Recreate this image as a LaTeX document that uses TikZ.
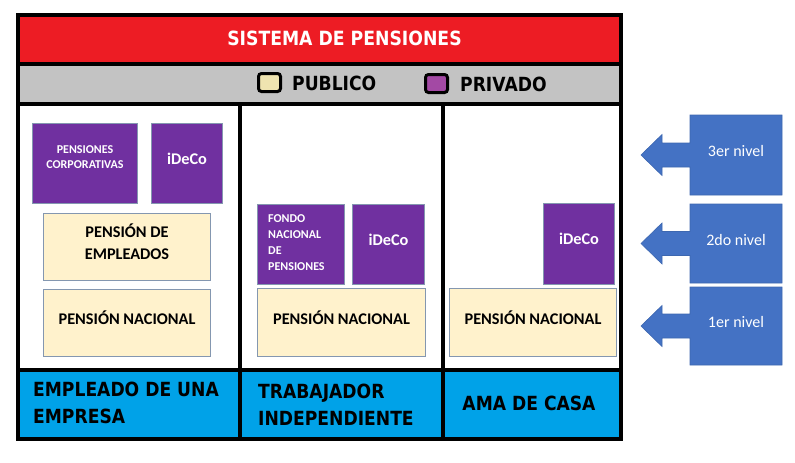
\documentclass[tikz,border=0pt]{standalone}
\usepackage{fontspec}
\setmainfont{Carlito}
\newfontfamily\tah{DejaVu Sans}[FakeStretch=0.88]
\definecolor{hred}{HTML}{ED1C24}
\definecolor{hgray}{HTML}{C3C3C3}
\definecolor{hblue}{HTML}{00A2E8}
\definecolor{purp}{HTML}{7030A0}
\definecolor{beige}{HTML}{FFF2CC}
\definecolor{edgec}{HTML}{8497B0}
\definecolor{lvl}{HTML}{4472C4}
\definecolor{legy}{HTML}{EFE4B0}
\definecolor{legp}{HTML}{A349A4}
\begin{document}
\begin{tikzpicture}[x=1pt,y=-1pt,
  pubbox/.style={draw=edgec,line width=1pt,fill=beige,anchor=north west,inner sep=0pt},
  privbox/.style={draw=edgec,line width=1pt,fill=purp,anchor=north west,inner sep=0pt},
  btxt/.style={font=\fontsize{16.3}{20}\selectfont\bfseries,text=black,inner sep=0pt,align=center},
  wtxt/.style={font=\fontsize{16.3}{20}\selectfont\bfseries,text=white,inner sep=0pt,align=center},
  stxt/.style={font=\fontsize{12}{15}\selectfont\bfseries,text=white,inner sep=0pt},
  tahtxt/.style={font=\fontsize{19.5}{27}\selectfont\tah\bfseries,text=black,inner sep=0pt},
  legsq/.style={draw=black,line width=3pt,rounded corners=3pt,minimum width=22pt,minimum height=18pt,inner sep=0pt},
  lvltxt/.style={font=\fontsize{16}{18}\selectfont,text=white,inner sep=0pt},
  frame/.style={line width=4pt,draw=black}
]
\useasboundingbox (0,0) rectangle (795,463);
% bands
\node[fill=hred,anchor=north west,minimum width=602pt,minimum height=48pt,inner sep=0pt] (head) at (18,15) {};
\node[fill=hgray,anchor=north west,minimum width=602pt,minimum height=41pt,inner sep=0pt] (leg) at (18,63.5) {};
\fill[hblue] (18,370) rectangle (620.5,439);
\node[font=\fontsize{19.6}{22}\selectfont\tah\bfseries,text=white,inner sep=0pt] (title) at (344.5,38.5) {SISTEMA DE PENSIONES};
% legend
\node[legsq,fill=legy] (lpub) at (269.5,82.5) {};
\node[tahtxt,anchor=west] (lpubt) at (292,83) {PUBLICO};
\node[legsq,fill=legp] (lpriv) at (436.5,83.5) {};
\node[tahtxt,anchor=west] (lprivt) at (460,84) {PRIVADO};
% frame
\draw[frame] (18,15) rectangle (620.5,439);
\draw[frame] (18,63.5) -- (620.5,63.5);
\draw[frame] (18,104) -- (620.5,104);
\draw[frame] (18,370) -- (620.5,370);
\draw[frame] (239.5,104) -- (239.5,439);
\draw[frame] (443,104) -- (443,439);
% column 1
\node[privbox,minimum width=105pt,minimum height=80pt] (pc) at (32,123) {};
\node[stxt,align=center] (pct) at ([yshift=6pt]pc.center) {PENSIONES\\CORPORATIVAS};
\node[privbox,minimum width=71pt,minimum height=80pt] (id1) at (151,123) {};
\node[wtxt] (id1t) at ([yshift=5pt]id1.center) {iDeCo};
\node[pubbox,minimum width=167pt,minimum height=67pt] (pe) at (43,213) {};
\node[btxt,font=\fontsize{16.3}{22}\selectfont\bfseries] (pet) at ([yshift=5pt]pe.center) {PENSIÓN DE\\EMPLEADOS};
\node[pubbox,minimum width=167pt,minimum height=67pt] (pn1) at (43,289) {};
\node[btxt] (pn1t) at ([yshift=5pt]pn1.center) {PENSIÓN NACIONAL};
% column 2
\node[privbox,minimum width=87pt,minimum height=80pt] (fn) at (257,204) {};
\node[stxt,anchor=west,align=left,font=\fontsize{12}{16}\selectfont\bfseries] (fnt) at (268,243) {FONDO\\NACIONAL\\DE\\PENSIONES};
\node[privbox,minimum width=72pt,minimum height=80pt] (id2) at (352,204) {};
\node[wtxt] (id2t) at ([yshift=5pt]id2.center) {iDeCo};
\node[pubbox,minimum width=168pt,minimum height=68pt] (pn2) at (257,288) {};
\node[btxt] (pn2t) at ([yshift=5pt]pn2.center) {PENSIÓN NACIONAL};
% column 3
\node[privbox,minimum width=71pt,minimum height=81pt] (id3) at (543,203) {};
\node[wtxt] (id3t) at ([yshift=5pt]id3.center) {iDeCo};
\node[pubbox,minimum width=167pt,minimum height=68pt] (pn3) at (449,288) {};
\node[btxt] (pn3t) at ([yshift=5pt]pn3.center) {PENSIÓN NACIONAL};
% bottom labels
\node[tahtxt,anchor=west,align=left] (c1) at (33,402.5) {EMPLEADO DE UNA\\EMPRESA};
\node[tahtxt,anchor=west,align=left] (c2) at (258,405) {TRABAJADOR\\INDEPENDIENTE};
\node[tahtxt] (c3) at (529,403) {AMA DE CASA};
% level arrows
\foreach \t/\b/\lab/\nm in {115/195/3er nivel/l3, 204/283/2do nivel/l2, 287/365/1er nivel/l1}{
  \pgfmathsetmacro{\m}{(\t+\b)/2}
  \filldraw[fill=lvl,draw=lvl!90!black,line width=0.6pt]
    (690,\t) -- (782,\t) -- (782,\b) -- (690,\b) -- (690,\m+12) -- (662,\m+12) -- (662,\m+20.5)
    -- (641,\m) -- (662,\m-20.5) -- (662,\m-12) -- (690,\m-12) -- cycle;
  \node[lvltxt] (\nm) at (736,\m-4) {\lab};
}
\end{tikzpicture}
\end{document}
